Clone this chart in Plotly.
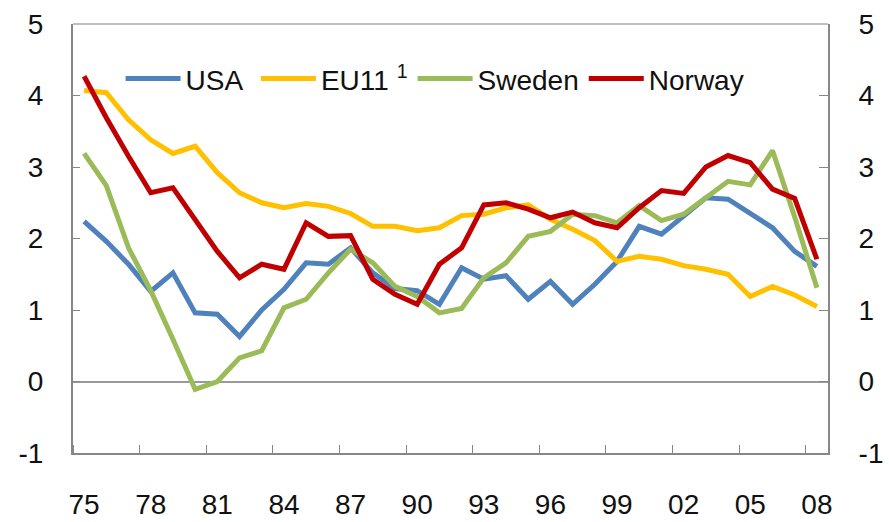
import plotly.graph_objects as go

years = list(range(1975, 2009))
label_years = list(range(1975, 2009, 3))
label_text = [f"{y % 100:02d}" for y in label_years]
boundary_ticks = [y - 0.5 for y in label_years]
y_ticks = [-1, 0, 1, 2, 3, 4, 5]
y_tick_text = ["-1", "0", "1", "2", "3", "4", "5"]

usa = [2.24, 1.96, 1.64, 1.26, 1.52, 0.96, 0.94, 0.63, 1.00, 1.29,
       1.66, 1.64, 1.87, 1.52, 1.30, 1.27, 1.08, 1.59, 1.43, 1.48,
       1.15, 1.40, 1.08, 1.36, 1.68, 2.17, 2.06, 2.31, 2.57, 2.55,
       2.36, 2.15, 1.82, 1.61]
eu11 = [4.07, 4.04, 3.66, 3.38, 3.19, 3.29, 2.92, 2.64, 2.50, 2.43,
        2.49, 2.45, 2.35, 2.17, 2.17, 2.11, 2.15, 2.32, 2.34, 2.43,
        2.47, 2.27, 2.13, 1.97, 1.68, 1.75, 1.71, 1.62, 1.57, 1.50,
        1.19, 1.33, 1.21, 1.05]
sweden = [3.19, 2.74, 1.87, 1.27, 0.59, -0.11, 0.00, 0.33, 0.43, 1.03,
          1.15, 1.52, 1.85, 1.66, 1.33, 1.19, 0.96, 1.02, 1.45, 1.66,
          2.03, 2.10, 2.34, 2.32, 2.22, 2.46, 2.25, 2.34, 2.57, 2.80,
          2.75, 3.23, 2.30, 1.31]
norway = [4.27, 3.69, 3.15, 2.64, 2.71, 2.27, 1.82, 1.45, 1.64, 1.57,
          2.22, 2.03, 2.04, 1.43, 1.22, 1.08, 1.64, 1.87, 2.47, 2.50,
          2.41, 2.29, 2.37, 2.22, 2.15, 2.43, 2.67, 2.63, 3.00, 3.16,
          3.06, 2.69, 2.56, 1.71]

series = [
    ("USA\u00a0", usa, "#4F81BD", "y"),
    ("EU11 <sup>1</sup>", eu11, "#FFC000", "y"),
    ("Sweden", sweden, "#9BBB59", "y"),
    ("Norway", norway, "#C00000", "y2"),
]

font_family = "Liberation Sans, Arial, sans-serif"
axis_gray = "#878787"

fig = go.Figure()
for name, vals, color, yax in series:
    fig.add_trace(go.Scatter(
        x=years, y=vals, mode="lines", name=name, yaxis=yax,
        line=dict(color=color, width=5),
    ))

fig.update_layout(
    width=889, height=522,
    margin=dict(l=73, r=61, t=24, b=69, pad=0),
    paper_bgcolor="white", plot_bgcolor="white",
    font=dict(family=font_family, size=28, color="#111111"),
    showlegend=True,
    legend=dict(orientation="h", x=0.063, xanchor="left", y=0.872, yanchor="middle",
                bgcolor="rgba(0,0,0,0)", font=dict(size=28), itemwidth=55,
                tracegroupgap=0),
    xaxis=dict(
        range=[1974.5, 2008.5], tickmode="array", tickvals=label_years, ticktext=label_text,
        ticks="", showgrid=False, zeroline=False, automargin=False,
        showline=True, linecolor=axis_gray, linewidth=2,
        ticklabelstandoff=25,
        minor=dict(tickmode="array", tickvals=boundary_ticks, ticks="inside",
                   ticklen=8, tickcolor=axis_gray, tickwidth=1, showgrid=False),
    ),
    yaxis=dict(
        range=[-1, 5], tickmode="array", tickvals=y_ticks, ticktext=y_tick_text,
        ticks="inside", ticklen=7, tickcolor=axis_gray, automargin=False,
        showgrid=False, zeroline=True, zerolinecolor="#9a9a9a", zerolinewidth=1.5,
        showline=True, linecolor=axis_gray, linewidth=2, ticklabelstandoff=22,
    ),
    yaxis2=dict(
        range=[-1, 5], tickmode="array", tickvals=y_ticks, ticktext=y_tick_text,
        ticks="inside", ticklen=9, tickcolor=axis_gray, automargin=False,
        overlaying="y", side="right", showgrid=False, zeroline=False,
        showline=True, linecolor=axis_gray, linewidth=2, ticklabelstandoff=23,
    ),
    shapes=[dict(type="line", xref="paper", yref="paper", x0=0, x1=1, y0=1, y1=1,
                 line=dict(color="#BFBFBF", width=2), layer="below")],
)

fig.write_html(
    "out.html",
    config={"displayModeBar": False},
    post_script="document.body.style.margin='0';document.body.style.overflow='hidden';",
)
